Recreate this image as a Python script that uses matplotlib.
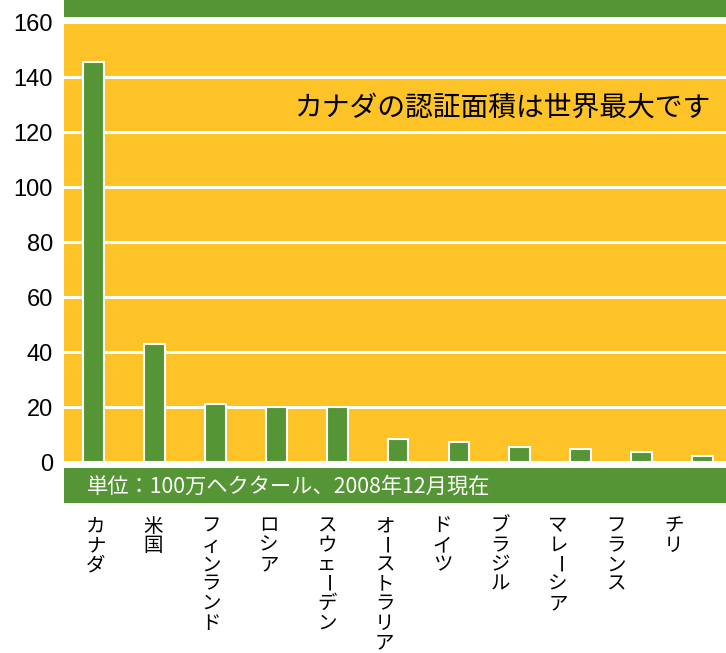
import numpy as np
import matplotlib.pyplot as plt

# 認証面積 (100万ヘクタール, 2008年12月現在)
countries = ["カナダ", "米国", "フィンランド", "ロシア", "スウェーデン", "オーストラリア",
             "ドイツ", "ブラジル", "マレーシア", "フランス", "チリ"]
areas = [145.5, 42.9, 21.1, 20.0, 20.0, 8.4, 7.4, 5.6, 4.6, 3.6, 2.2]
yticks = [0, 20, 40, 60, 80, 100, 120, 140, 160]
note = "カナダの認証面積は世界最大です"
unit_text = "単位：100万ヘクタール、2008年12月現在"

YELLOW = "#FDC327"
GREEN = "#559535"
JP = ["Noto Sans CJK JP", "DejaVu Sans"]

fig = plt.figure(figsize=(7.26, 6.53), dpi=100)
ax = fig.add_axes([64 / 726, 150 / 653, 1 - 64 / 726, 503 / 653])
ax.set_facecolor("white")

x = np.arange(len(countries))
ax.set_xlim(-0.49, 10.39)
ax.set_ylim(-14.9, 168)

# 背景の帯
ax.axhspan(0, 160, color=YELLOW, lw=0, zorder=0)
ax.axhspan(161.8, 168, color=GREEN, lw=0, zorder=0)
ax.axhspan(-14.9, -2.2, color=GREEN, lw=0, zorder=0)

ax.set_yticks(yticks)
ax.set_yticklabels([str(v) for v in yticks], fontsize=17, family="Liberation Sans")
ax.tick_params(axis="y", length=0, pad=8)
ax.set_xticks([])
ax.grid(axis="y", color="white", lw=2.2, zorder=0.5)
ax.set_axisbelow(True)
for s in ax.spines.values():
    s.set_visible(False)

ax.bar(x, areas, width=0.34, color=GREEN, edgecolor="white", linewidth=1.5, zorder=2)

ax.text(6.72, 129, note, fontsize=20, family=JP, ha="center", va="center", zorder=3)
ax.annotate(unit_text, xy=(0.035, -8.9), xycoords=("axes fraction", "data"),
            fontsize=15.3, family=JP, color="white", ha="left", va="center", zorder=3)

# 縦書きの国名 (長音符は縦向きに回す)
label_x = 0.03 + 0.95 * x
for lx, name in zip(label_x, countries):
    for k, ch in enumerate(name):
        rot = -90 if ch == "ー" else 0
        ax.annotate(ch, xy=(lx, 0), xycoords=("data", "axes fraction"),
                    xytext=(0, -(23 + 19.4 * k)), textcoords="offset pixels",
                    fontsize=14, family=JP, ha="center", va="center",
                    rotation=rot, rotation_mode="anchor", annotation_clip=False)

plt.savefig("out.png", dpi=100)
